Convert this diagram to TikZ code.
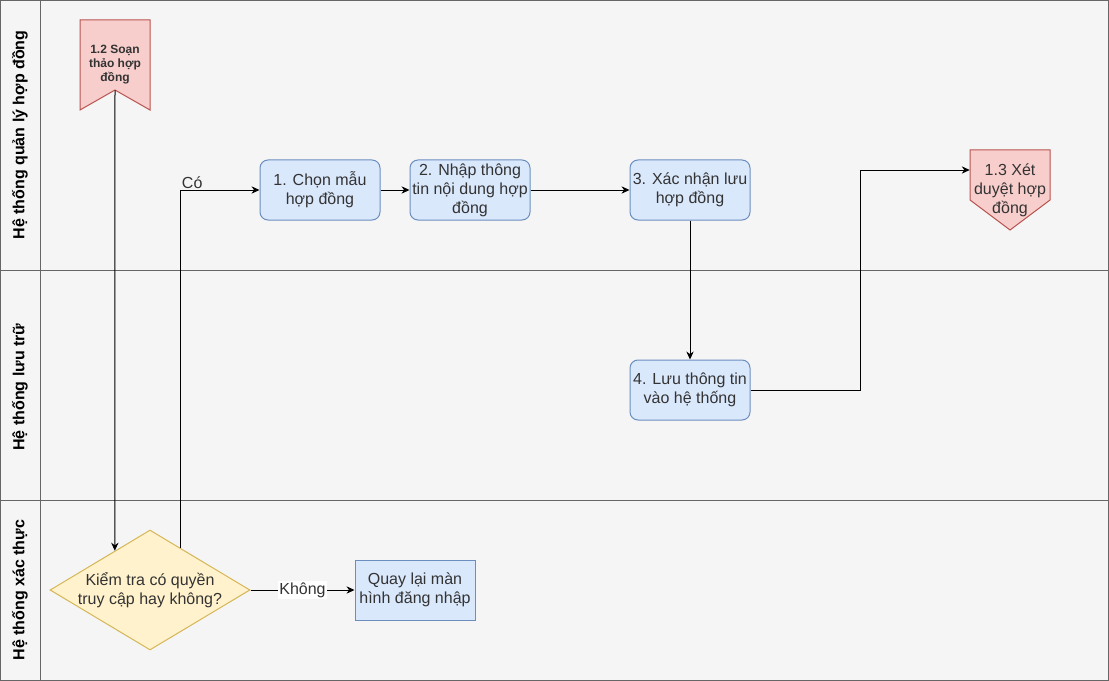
\documentclass[tikz,border=0pt]{standalone}
\usepackage{fontspec}
\setmainfont{Liberation Sans}
\usepackage{tikz}
\usetikzlibrary{positioning,arrows.meta,shapes.geometric,calc}
\definecolor{laneFill}{HTML}{F5F5F5}
\definecolor{laneLine}{HTML}{666666}
\definecolor{txtGray}{HTML}{333333}
\definecolor{blueFill}{HTML}{DAE8FC}
\definecolor{blueLine}{HTML}{6C8EBF}
\definecolor{redFill}{HTML}{F8CECC}
\definecolor{redLine}{HTML}{B85450}
\definecolor{yellowFill}{HTML}{FFF2CC}
\definecolor{yellowLine}{HTML}{D6B656}
\tikzset{
  lane/.style={draw=laneLine, fill=laneFill, line width=0.75pt},
  laneTitle/.style={rotate=90, font=\bfseries\fontsize{12pt}{14.25pt}\selectfont},
  stepbox/.style={rectangle, rounded corners=6pt, draw=blueLine, fill=blueFill, line width=0.75pt,
                  minimum width=90pt, minimum height=45pt, inner sep=1pt, align=center,
                  text=txtGray, font=\fontsize{12pt}{14.25pt}\selectfont},
  plainbox/.style={stepbox, sharp corners},
  decision/.style={diamond, draw=yellowLine, fill=yellowFill, line width=0.75pt, aspect=1.6667,
                   minimum width=150pt, minimum height=90pt, inner sep=-0.6pt, align=center,
                   text=txtGray, font=\fontsize{12pt}{14.25pt}\selectfont},
  redshape/.style={draw=redLine, fill=redFill, line width=0.75pt},
  pagetext/.style={rectangle, inner sep=0pt, align=center, text=txtGray},
  flow/.style={-{Stealth[length=6pt, width=5.5pt]}, line width=0.75pt},
  edgelabel/.style={font=\fontsize{12pt}{14.25pt}\selectfont, text=txtGray, inner sep=1pt},
}

\begin{document}
\begin{tikzpicture}[x=0.75pt, y=-0.75pt]
  \useasboundingbox (0,0) rectangle (1109,681);

  % lanes
  \draw[lane] (0.5,0.5) rectangle (1108.5,270);
  \draw[lane] (0.5,270) rectangle (1108.5,500);
  \draw[lane] (0.5,500) rectangle (1108.5,680.5);
  \draw[draw=laneLine, line width=0.75pt] (40,0.5) -- (40,680.5);
  \node[laneTitle] (laneQL) at (20,135) {Hệ thống quản lý hợp đồng};
  \node[laneTitle] (laneLT) at (20,387) {Hệ thống lưu trữ};
  \node[laneTitle] (laneXT) at (20,590) {Hệ thống xác thực};

  % off-page shapes
  \draw[redshape] (80,20) -- (150,20) -- (150,110) -- (115,90) -- (80,110) -- cycle;
  \draw[redshape] (970,150) -- (1050,150) -- (1050,200) -- (1010,230) -- (970,200) -- cycle;
  \node[pagetext, minimum width=52.5pt, minimum height=67.5pt,
        font=\bfseries\fontsize{9pt}{10.5pt}\selectfont] (soan) at (115,65) {1.2 Soạn\\thảo hợp\\đồng};
  \node[pagetext, minimum width=60pt, minimum height=60pt,
        font=\fontsize{12pt}{14.25pt}\selectfont] (xet) at (1010,190) {1.3 Xét\\duyệt hợp\\đồng};

  % steps
  \node[stepbox] (chonmau) at (320,190) {1. Chọn mẫu\\hợp đồng};
  \node[stepbox, right=21.75pt of chonmau] (nhap) {2. Nhập thông\\tin nội dung hợp\\đồng};
  \node[stepbox, right=74.25pt of nhap] (xacnhan) {3. Xác nhận lưu\\hợp đồng};
  \node[stepbox, below=104.25pt of xacnhan] (luu) {4. Lưu thông tin\\vào hệ thống};
  \node[decision] (kiemtra) at (150,590) {Kiểm tra có quyền\\truy cập hay không?};
  \node[plainbox, right=78pt of kiemtra] (quaylai) {Quay lại màn\\hình đăng nhập};

  % connectors
  \draw[flow] ([yshift=15pt]soan.south) -- ($(kiemtra.north)!0.35!(kiemtra.west)$);
  \draw[flow] ($(kiemtra.north)!0.3!(kiemtra.east)$) |- node[pos=0.5, edgelabel, above right] {Có} (chonmau.west);
  \draw[flow] (chonmau) -- (nhap);
  \draw[flow] (nhap) -- (xacnhan);
  \draw[flow] (xacnhan) -- (luu);
  \draw[flow] (luu.east) -- ++(110,0) |- ([yshift=15pt]xet.west);
  \draw[flow] (kiemtra.east) -- node[edgelabel, fill=white] {Không} (quaylai.west);

\end{tikzpicture}
\end{document}
